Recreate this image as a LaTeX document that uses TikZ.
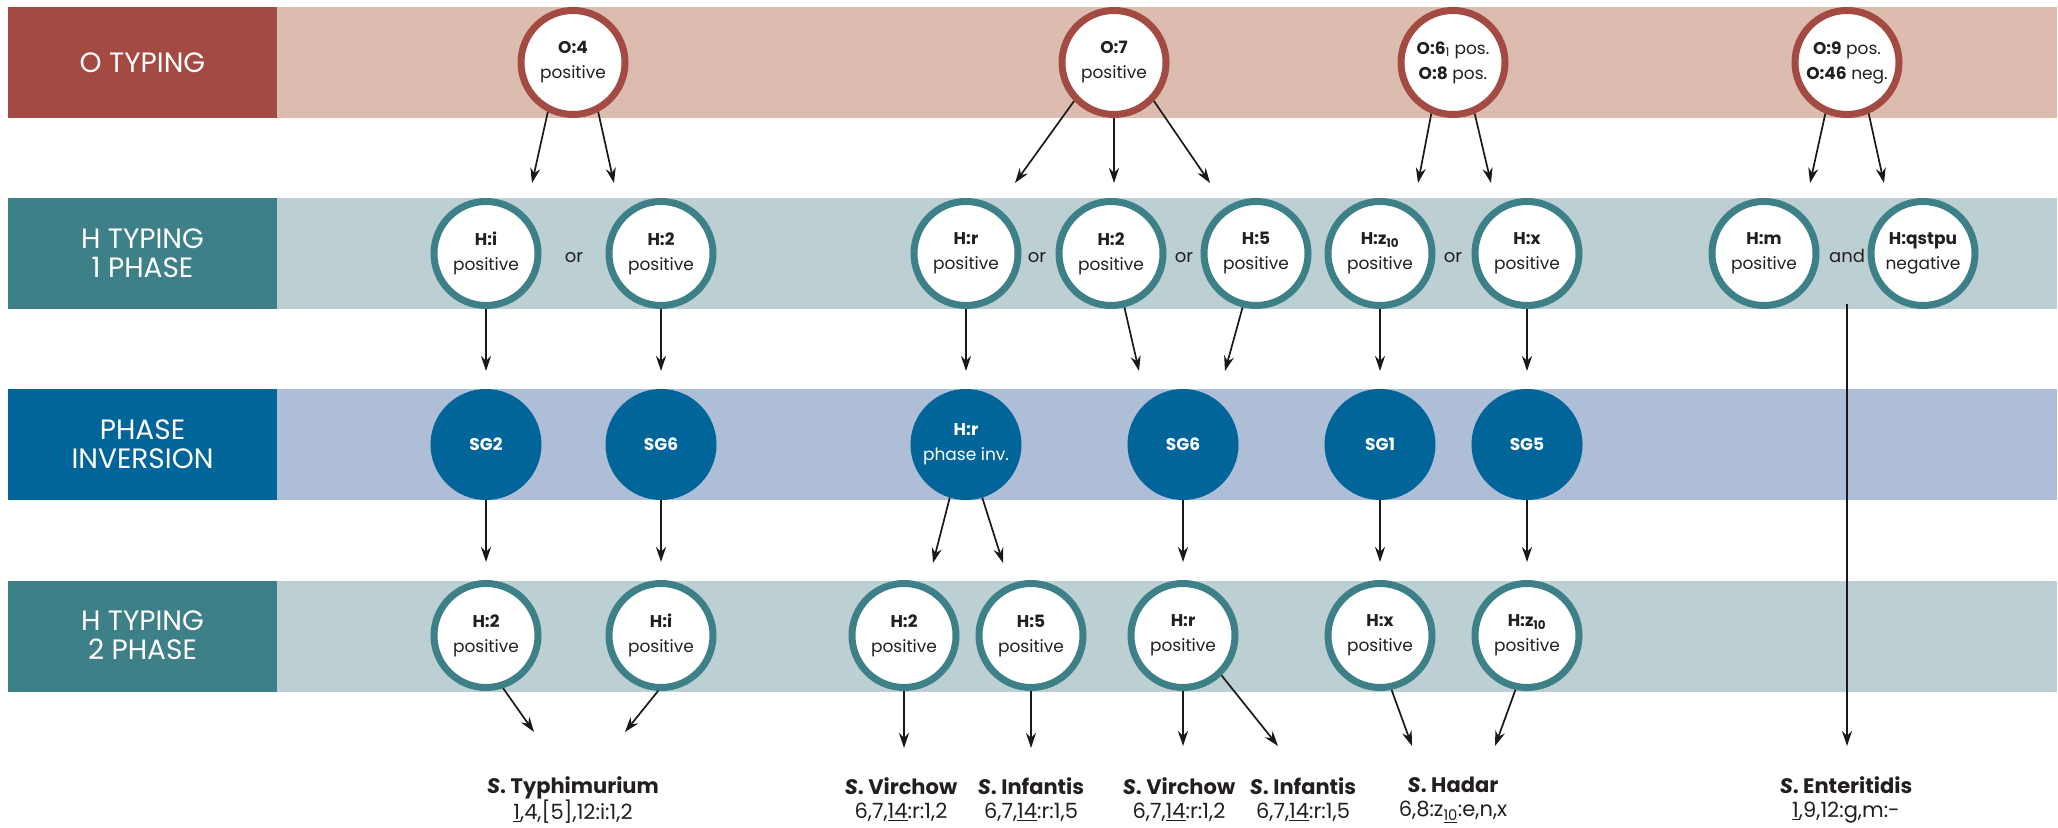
\documentclass[tikz,border=0pt]{standalone}
\usepackage{fontspec}
\setmainfont{Poppins}
\usetikzlibrary{arrows.meta}

\definecolor{oRed}{HTML}{A34A42}
\definecolor{oBand}{HTML}{DDBCB0}
\definecolor{hTeal}{HTML}{3E8087}
\definecolor{hBand}{HTML}{BCCFD2}
\definecolor{piBlue}{HTML}{01659A}
\definecolor{piBand}{HTML}{ADBED6}
\definecolor{ink}{HTML}{231F20}

\newcommand{\rowfont}{\fontsize{28}{29}\selectfont}
\newcommand{\circfont}{\fontsize{17}{25}\selectfont}
\newcommand{\orfont}{\fontsize{18}{20}\selectfont}
\newcommand{\specfont}{\fontsize{21}{24}\selectfont}
\newcommand{\spname}[1]{{\fontsize{21}{24}\selectfont\textbf{\textit{S}. #1}}}

\begin{document}
\begin{tikzpicture}[x=1pt,y=1pt,
  otyp/.style={circle, draw=oRed, line width=7pt, fill=white, minimum size=104pt,
    inner sep=0pt, align=center, text=ink, font=\circfont},
  htyp/.style={otyp, draw=hTeal},
  invnode/.style={circle, draw=piBlue, fill=piBlue, line width=7pt, minimum size=104pt,
    inner sep=0pt, align=center, text=white, font=\circfont},
  rowlabel/.style={align=center, text=white, font=\rowfont},
  conj/.style={text=ink, font=\orfont},
  species/.style={align=center, text=ink, font=\specfont},
  arr/.style={-{Stealth[length=15pt,width=10pt]}, line width=1.7pt, draw=black!90}]

\useasboundingbox (0,0) rectangle (2058,827);

% bands
\fill[oBand] (8,709) rectangle (2057,820);
\fill[oRed] (8,709) rectangle (277,820);
\fill[hBand] (8,518) rectangle (2057,629);
\fill[hTeal] (8,518) rectangle (277,629);
\fill[piBand] (8,327) rectangle (2057,438);
\fill[piBlue] (8,327) rectangle (277,438);
\fill[hBand] (8,135) rectangle (2057,246);
\fill[hTeal] (8,135) rectangle (277,246);

\node[rowlabel] (lab-o) at (142.5,764.5) {O TYPING};
\node[rowlabel] (lab-h1) at (142.5,573.5) {H TYPING\\1 PHASE};
\node[rowlabel] (lab-pi) at (142.5,382.5) {PHASE\\INVERSION};
\node[rowlabel] (lab-h2) at (142.5,191.5) {H TYPING\\2 PHASE};

% O typing
\node[otyp] (o4) at (573,764.5) {\textbf{O:4}\\positive};
\node[otyp] (o7) at (1114,764.5) {\textbf{O:7}\\positive};
\node[otyp] (o68) at (1453,764.5) {\textbf{O:6}\textsubscript{1} pos.\\\textbf{O:8} pos.};
\node[otyp] (o946) at (1847,764.5) {\textbf{O:9} pos.\\\textbf{O:46} neg.};

% H typing, 1 phase
\node[htyp] (hi1) at (486,573.5) {\textbf{H:i}\\positive};
\node[htyp] (h21) at (661,573.5) {\textbf{H:2}\\positive};
\node[htyp] (hr1) at (966,573.5) {\textbf{H:r}\\positive};
\node[htyp] (h2b) at (1111,573.5) {\textbf{H:2}\\positive};
\node[htyp] (h5a) at (1256,573.5) {\textbf{H:5}\\positive};
\node[htyp] (hz1) at (1380,573.5) {\textbf{H:z\textsubscript{10}}\\positive};
\node[htyp] (hx1) at (1527,573.5) {\textbf{H:x}\\positive};
\node[htyp] (hm) at (1764,573.5) {\textbf{H:m}\\positive};
\node[htyp] (hq) at (1923,573.5) {\textbf{H:qstpu}\\negative};

\node[conj] (or1) at (574,569.5) {or};
\node[conj] (or2) at (1037,569.5) {or};
\node[conj] (or3) at (1184,569.5) {or};
\node[conj] (or4) at (1453,569.5) {or};
\node[conj] (and1) at (1847,571) {and};

% phase inversion
\node[invnode] (sg2) at (486,382.5) {\textbf{SG2}};
\node[invnode] (sg6a) at (661,382.5) {\textbf{SG6}};
\node[invnode] (hrinv) at (966,382.5) {\textbf{H:r}\\phase inv.};
\node[invnode] (sg6b) at (1183,382.5) {\textbf{SG6}};
\node[invnode] (sg1) at (1380,382.5) {\textbf{SG1}};
\node[invnode] (sg5) at (1527,382.5) {\textbf{SG5}};

% H typing, 2 phase
\node[htyp] (h2c) at (486,191.5) {\textbf{H:2}\\positive};
\node[htyp] (hi2) at (661,191.5) {\textbf{H:i}\\positive};
\node[htyp] (h2d) at (904,191.5) {\textbf{H:2}\\positive};
\node[htyp] (h5b) at (1031,191.5) {\textbf{H:5}\\positive};
\node[htyp] (hr2) at (1183,191.5) {\textbf{H:r}\\positive};
\node[htyp] (hx2) at (1380,191.5) {\textbf{H:x}\\positive};
\node[htyp] (hz2) at (1527,191.5) {\textbf{H:z\textsubscript{10}}\\positive};

% serovars
\node[species] (typh) at (573,27) {\spname{Typhimurium}\\\underline{1},4,[5],12:i:1,2};
\node[species] (virA) at (901,27) {\spname{Virchow}\\6,7,\underline{14}:r:1,2};
\node[species] (infA) at (1031,27) {\spname{Infantis}\\6,7,\underline{14}:r:1,5};
\node[species] (virB) at (1179,27) {\spname{Virchow}\\6,7,\underline{14}:r:1,2};
\node[species] (infB) at (1303,27) {\spname{Infantis}\\6,7,\underline{14}:r:1,5};
\node[species] (hadar) at (1453,27) {\spname{Hadar}\\6,8:z\textsubscript{\underline{10}}:e,n,x};
\node[species] (ente) at (1846,27) {\spname{Enteritidis}\\\underline{1},9,12:g,m:-};

% arrow ends
\coordinate (o4-l) at (532,644);
\coordinate (o4-r) at (614,644);
\coordinate (o7-l) at (1015,644);
\coordinate (o7-m) at (1114,644);
\coordinate (o7-r) at (1210,644);
\coordinate (o68-l) at (1418,644);
\coordinate (o68-r) at (1491,644);
\coordinate (o946-l) at (1810,644);
\coordinate (o946-r) at (1884,644);
\coordinate (h2b-d) at (1139,456);
\coordinate (h5a-d) at (1225,456);
\coordinate (and-d) at (1847,523);
\coordinate (inv-l) at (933,264);
\coordinate (inv-r) at (1003,264);
\coordinate (typh-l) at (534,95);
\coordinate (typh-r) at (625,95);
\coordinate (virA-in) at (904,79);
\coordinate (infA-in) at (1031,79);
\coordinate (virB-in) at (1183,81);
\coordinate (infB-in) at (1278,81);
\coordinate (hadar-l) at (1412,81);
\coordinate (hadar-r) at (1495,81);
\coordinate (ente-in) at (1847,81);

% O -> H 1 phase
\draw[arr] (o4.243) -- (o4-l);
\draw[arr] (o4.297) -- (o4-r);
\draw[arr] (o7.224) -- (o7-l);
\draw[arr] (o7.south) -- (o7-m);
\draw[arr] (o7.316) -- (o7-r);
\draw[arr] (o68.247) -- (o68-l);
\draw[arr] (o68.293) -- (o68-r);
\draw[arr] (o946.247) -- (o946-l);
\draw[arr] (o946.293) -- (o946-r);

% H 1 phase -> phase inversion
\draw[arr, shorten >=18pt] (hi1) -- (sg2);
\draw[arr, shorten >=18pt] (h21) -- (sg6a);
\draw[arr, shorten >=18pt] (hr1) -- (hrinv);
\draw[arr] (h2b.284) -- (h2b-d);
\draw[arr] (h5a.256) -- (h5a-d);
\draw[arr, shorten >=18pt] (hz1) -- (sg1);
\draw[arr, shorten >=18pt] (hx1) -- (sg5);
\draw[arr] (and-d) -- (ente-in);

% phase inversion -> H 2 phase
\draw[arr, shorten >=18pt] (sg2) -- (h2c);
\draw[arr, shorten >=18pt] (sg6a) -- (hi2);
\draw[arr] (hrinv.253) -- (inv-l);
\draw[arr] (hrinv.287) -- (inv-r);
\draw[arr, shorten >=18pt] (sg6b) -- (hr2);
\draw[arr, shorten >=18pt] (sg1) -- (hx2);
\draw[arr, shorten >=18pt] (sg5) -- (hz2);

% H 2 phase -> serovars
\draw[arr] (h2c.288) -- (typh-l);
\draw[arr] (hi2.267) -- (typh-r);
\draw[arr] (h2d.south) -- (virA-in);
\draw[arr] (h5b.south) -- (infA-in);
\draw[arr] (hr2.south) -- (virB-in);
\draw[arr] (hr2.314) -- (infB-in);
\draw[arr] (hx2.282) -- (hadar-l);
\draw[arr] (hz2.258) -- (hadar-r);

\end{tikzpicture}
\end{document}
